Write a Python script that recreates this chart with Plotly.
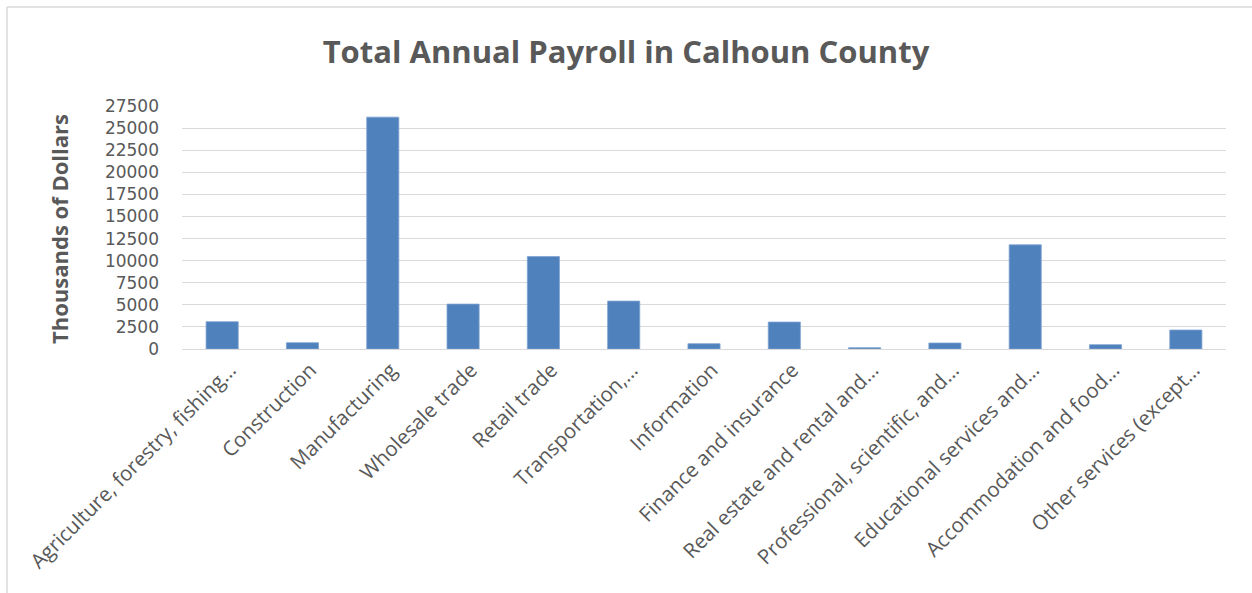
import plotly.graph_objects as go

# Industry categories (labels as shown on the axis) and payroll in thousands of dollars
categories = [
    "Agriculture, forestry, fishing…",
    "Construction",
    "Manufacturing",
    "Wholesale trade",
    "Retail trade",
    "Transportation,…",
    "Information",
    "Finance and insurance",
    "Real estate and rental and…",
    "Professional, scientific, and…",
    "Educational services and…",
    "Accommodation and food…",
    "Other services (except…",
]
payroll = [3090, 715, 26240, 5080, 10470, 5420, 600, 3050, 150, 680, 11790, 490, 2150]

y_ticks = list(range(0, 27501, 2500))

FONT = "Open Sans"
GRAY = "#595959"

W, H = 1252, 593
ML, MR, MT, MB = 182, 26, 106, 244
PW, PH = W - ML - MR, H - MT - MB


def px_x(px):
    return (px - ML) / PW


def px_y(py):
    return (H - MB - py) / PH


fig = go.Figure(
    go.Bar(
        x=categories,
        y=payroll,
        width=0.4,
        marker=dict(color="#4F81BD", line=dict(color="#7FA3D0", width=0.8)),
    )
)

fig.update_layout(
    width=W,
    height=H,
    margin=dict(l=ML, r=MR, t=MT, b=MB),
    paper_bgcolor="white",
    plot_bgcolor="white",
    showlegend=False,
    title=dict(
        text="<b>Total Annual Payroll in Calhoun County</b>",
        x=0.5,
        xanchor="center",
        y=1 - 52 / H,
        yanchor="middle",
        font=dict(family=FONT, size=31, color=GRAY),
    ),
    xaxis=dict(
        tickangle=-45,
        tickfont=dict(family=FONT, size=20.5, color=GRAY),
        ticklabelshift=8,
        showgrid=False,
        showline=True,
        linecolor="#D9D9D9",
        linewidth=1,
        ticks="",
    ),
    yaxis=dict(
        range=[0, 27500],
        tickvals=y_ticks,
        ticktext=[str(v) for v in y_ticks],
        tickfont=dict(family="DejaVu Sans", size=17, color=GRAY),
        showgrid=True,
        gridcolor="#D9D9D9",
        gridwidth=1,
        zeroline=False,
        showline=False,
        ticks="",
        ticklabelstandoff=22,
    ),
    shapes=[
        dict(type="line", xref="paper", yref="paper",
             x0=px_x(7), x1=px_x(W), y0=px_y(7), y1=px_y(7),
             line=dict(color="#D9D9D9", width=1.5)),
        dict(type="line", xref="paper", yref="paper",
             x0=px_x(7), x1=px_x(7), y0=px_y(7), y1=px_y(H),
             line=dict(color="#D9D9D9", width=1.5)),
    ],
    annotations=[
        dict(
            text="<b>Thousands of Dollars</b>",
            xref="paper", yref="paper",
            x=px_x(59), y=px_y(229),
            xanchor="center", yanchor="middle",
            textangle=-90, showarrow=False,
            font=dict(family=FONT, size=22, color=GRAY),
        )
    ],
)

fig.write_html("out.html")
